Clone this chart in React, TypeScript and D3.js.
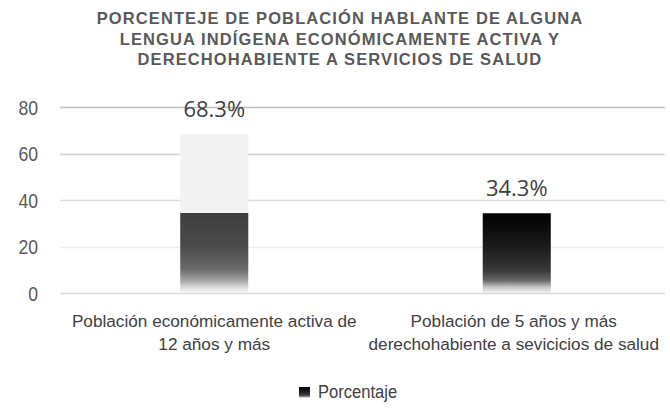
import React, { useEffect, useRef } from 'react';
import * as d3 from 'd3';

const titleLines = [
  'PORCENTEJE DE POBLACIÓN HABLANTE DE ALGUNA',
  'LENGUA INDÍGENA ECONÓMICAMENTE ACTIVA Y',
  'DERECHOHABIENTE A SERVICIOS DE SALUD',
];
const categories = [
  ['Población económicamente activa de', '12 años y más'],
  ['Población de 5 años y más', 'derechohabiente a sevicicios de salud'],
];
const values = [68.3, 34.3];
const yTicks = [0, 20, 40, 60, 80];
const seriesName = 'Porcentaje';

const FONT = '"Liberation Sans", Arial, sans-serif';

// squeeze text horizontally to fake a narrow font
function narrow(sel: any, factor: number) {
  sel.each(function (this: any) {
    const w = this.getComputedTextLength();
    d3.select(this).attr('textLength', w * factor).attr('lengthAdjust', 'spacingAndGlyphs');
  });
}

function App() {
  const ref = useRef<SVGSVGElement | null>(null);

  useEffect(() => {
    if (!ref.current) return;
    const width = 670;
    const height = 409;
    const svg = d3.select(ref.current);
    svg.selectAll('*').remove();
    svg.attr('width', width).attr('height', height);

    svg.append('rect').attr('width', width).attr('height', height).attr('fill', '#fff');

    const defs = svg.append('defs');

    // dark gradient (second bar / legend)
    const g2 = defs.append('linearGradient').attr('id', 'grad-dark')
      .attr('x1', 0).attr('y1', 0).attr('x2', 0).attr('y2', 1);
    [[0, '#000'], [0.45, '#1e1e1e'], [0.72, '#3a3a3a'], [0.84, '#666'], [0.93, '#c8c8c8'], [1, '#f2f2f2']]
      .forEach(([o, c]) => g2.append('stop').attr('offset', o as number).attr('stop-color', c as string));

    // first bar: light top, dark gradient from the height of the second value
    const split = 1 - values[1] / values[0];
    const g1 = defs.append('linearGradient').attr('id', 'grad-first')
      .attr('x1', 0).attr('y1', 0).attr('x2', 0).attr('y2', 1);
    const rest = (t: number) => split + (1 - split) * t;
    [[0, '#f2f2f2'], [split, '#f2f2f2'], [split, '#404040'], [rest(0.4), '#4a4a4a'], [rest(0.7), '#6a6a6a'],
      [rest(0.85), '#a8a8a8'], [rest(0.95), '#e6e6e6'], [1, '#f6f6f6']]
      .forEach(([o, c]) => g1.append('stop').attr('offset', o as number).attr('stop-color', c as string));

    // title
    svg.append('g').selectAll('text').data(titleLines).join('text')
      .attr('x', 340).attr('y', (d, i) => 24 + i * 20.5)
      .attr('text-anchor', 'middle')
      .style('font-family', FONT)
      .style('font-weight', 'bold')
      .style('font-size', '16.5px')
      .style('letter-spacing', '1.1px')
      .attr('fill', '#595959')
      .text((d) => d);

    const y = d3.scaleLinear().domain([0, 80]).range([293, 107]);
    const x = d3.scaleBand<number>().domain(d3.range(values.length)).range([63, 668]).padding(0);
    const barW = x.bandwidth() * 0.225;

    // gridlines
    const gridColors = ['#d9d9d9', '#eeeeee', '#dcdcdc', '#cfcfcf', '#c0c0c0'];
    svg.append('g').selectAll('line').data(yTicks).join('line')
      .attr('x1', 60).attr('x2', 665)
      .attr('y1', (d) => Math.round(y(d)) + 0.5).attr('y2', (d) => Math.round(y(d)) + 0.5)
      .attr('stroke', (d, i) => gridColors[i])
      .attr('stroke-width', 1.3);

    // y labels
    const yl = svg.append('g').selectAll('text').data(yTicks).join('text')
      .attr('x', 38).attr('y', (d) => y(d) + 7.5)
      .attr('text-anchor', 'end')
      .style('font-family', FONT)
      .style('font-size', '21px')
      .attr('fill', '#595959')
      .text((d) => d);
    narrow(yl, 0.84);

    // bars
    svg.append('g').selectAll('rect').data(values).join('rect')
      .attr('x', (d, i) => (x(i) as number) + x.bandwidth() / 2 - barW / 2)
      .attr('y', (d) => y(d))
      .attr('width', barW)
      .attr('height', (d) => y(0) - y(d))
      .attr('fill', (d, i) => (i === 0 ? 'url(#grad-first)' : 'url(#grad-dark)'));

    // value labels
    svg.append('g').selectAll('text').data(values).join('text')
      .attr('x', (d, i) => (x(i) as number) + x.bandwidth() / 2)
      .attr('y', (d) => y(d) - 17)
      .attr('text-anchor', 'middle')
      .style('font-family', '"Open Sans", "Noto Sans", sans-serif')
      .style('font-size', '22px')
      .attr('fill', '#404040')
      .text((d) => d.toFixed(1) + '%');

    // category labels
    const cat = svg.append('g').selectAll('text').data(categories).join('text')
      .attr('text-anchor', 'middle')
      .style('font-family', FONT)
      .style('font-size', '17.2px')
      .attr('fill', '#404040');
    cat.selectAll('tspan').data((d, i) => d.map((t) => ({ t, i }))).join('tspan')
      .attr('x', (d) => (x(d.i) as number) + x.bandwidth() / 2 - (d.i === 1 ? 3 : 0))
      .attr('y', (d, j) => 327 + j * 22.5)
      .text((d) => d.t);

    // legend
    const leg = svg.append('g');
    leg.append('rect').attr('x', 299).attr('y', 387).attr('width', 11).attr('height', 11)
      .attr('fill', 'url(#grad-dark)');
    const lt = leg.append('text').attr('x', 318).attr('y', 398)
      .style('font-family', FONT)
      .style('font-size', '18px')
      .attr('fill', '#404040')
      .text(seriesName);
    narrow(lt, 0.92);
  }, []);

  return <svg ref={ref} style={{ display: 'block', position: 'absolute', left: 0, top: 0 }} />;
}

export default App;
